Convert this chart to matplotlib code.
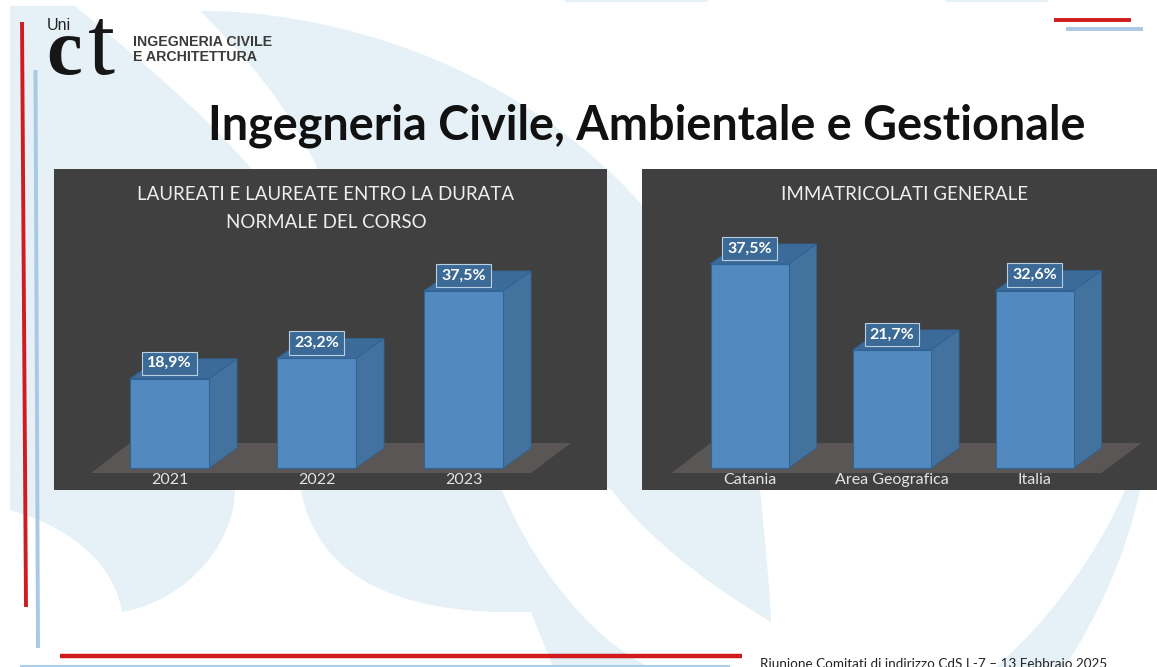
import matplotlib
matplotlib.use("Agg")
import matplotlib.pyplot as plt
from matplotlib.patches import Polygon, PathPatch
from matplotlib.path import Path

W, H = 1157, 667

years = ["2021", "2022", "2023"]
laureati = [18.9, 23.2, 37.5]
places = ["Catania", "Area Geografica", "Italia"]
immatricolati = [37.5, 21.7, 32.6]
labels_left = ["18,9%", "23,2%", "37,5%"]
labels_right = ["37,5%", "21,7%", "32,6%"]

FONT = ["Lato", "DejaVu Sans"]
PALE = "#e5f0f7"
FRONT = "#5289bf"
SIDE = "#44729e"
TOP = "#3c6a99"
EDGE = "#2f6496"
RED = "#d01c1f"
BLUE = "#a9c8e3"

M, L, C = Path.MOVETO, Path.LINETO, Path.CURVE4


def swoosh(bg, steps):
    # steps: list of (kind, points) in pixels
    verts, codes = [], []
    for kind, pts in steps:
        verts += pts
        codes += [kind] * len(pts)
    verts.append(verts[0])
    codes.append(Path.CLOSEPOLY)
    bg.add_patch(PathPatch(Path(verts, codes), fc=PALE, ec="none"))


def panel_chart(fig, box, centers, bar_w, scale, values, names, texts, title_y, title_x, title):
    # box = left, top, right, bottom of dark panel in pixels
    left, top, right, bottom = box
    base = 468
    ax = fig.add_axes([left / W, 1 - bottom / H, (right - left) / W, (bottom - top) / H])
    ax.set_facecolor("#404040")
    spacing = centers[1] - centers[0]
    ax.set_xlim((left - centers[0]) / spacing, (right - centers[0]) / spacing)
    ax.set_ylim((base - bottom) / scale, (base - top) / scale)
    ax.set_xticks([])
    ax.set_yticks([])
    for s in ax.spines.values():
        s.set_visible(False)

    w = bar_w / spacing
    dx = 28 / spacing
    dy = 20 / scale

    # floor
    x0 = -0.5 * w - 39 / spacing
    x1 = 2 + 0.5 * w + 68 / spacing
    ax.add_patch(Polygon([(x0, -5 / scale), (x0 + 39 / spacing, 25 / scale),
                          (x1, 25 / scale), (x1 - 40 / spacing, -5 / scale)],
                         fc="#595655", ec="none", zorder=1))

    ax.bar(range(3), values, width=w, color=FRONT, edgecolor=EDGE, linewidth=0.8, zorder=3)
    for i, v in enumerate(values):
        r = i + w / 2
        l = i - w / 2
        ax.add_patch(Polygon([(r, 0), (r + dx, dy), (r + dx, v + dy), (r, v)],
                             fc=SIDE, ec=EDGE, lw=0.6, zorder=2))
        ax.add_patch(Polygon([(l, v), (l + dx, v + dy), (r + dx, v + dy), (r, v)],
                             fc=TOP, ec=EDGE, lw=0.6, zorder=2))
        ax.text(i, v + 15.5 / scale, texts[i], color="white", fontsize=11.5, fontweight="bold",
                family=FONT, ha="center", va="center", zorder=5,
                bbox=dict(boxstyle="square,pad=0.3", fc="#3c6a96", ec="#b9cfe2", lw=0.8))
        ax.text(i, -12 / scale, names[i], color="#e4e4e4", fontsize=11.5, family=FONT,
                ha="center", va="center", zorder=5)

    for k, line in enumerate(title):
        ax.text((title_x - left) / (right - left), 1 - (title_y + k * 28 - top) / (bottom - top), line,
                transform=ax.transAxes, color="#eeeeee", fontsize=13.5, family=FONT,
                ha="center", va="center")
    return ax


fig = plt.figure(figsize=(W / 100, H / 100), dpi=100, facecolor="white")
bg = fig.add_axes([0, 0, 1, 1])
bg.set_xlim(0, W)
bg.set_ylim(H, 0)
bg.axis("off")

# pale background swooshes
swoosh(bg, [(M, [(10, 6)]), (L, [(75, 6)]),
            (C, [(140, 60), (200, 110), (250, 167)]),
            (L, [(235, 490)]),
            (C, [(235, 540), (190, 600), (122, 612)]),
            (C, [(115, 570), (80, 530), (10, 510)])])
swoosh(bg, [(M, [(200, 11)]),
            (C, [(320, 10), (510, 57), (642, 205)]),
            (L, [(502, 490)]),
            (C, [(530, 560), (590, 640), (650, 667)]),
            (L, [(553, 667), (531, 612)]),
            (C, [(420, 615), (320, 590), (301, 490)]),
            (L, [(317, 167)]),
            (C, [(290, 110), (250, 60), (200, 11)])])
swoosh(bg, [(M, [(612, 490)]), (L, [(607, 488), (607, 170), (642, 205), (760, 490)]),
            (C, [(765, 540), (770, 590), (771, 622)]),
            (C, [(700, 580), (640, 530), (612, 490)])])
swoosh(bg, [(M, [(1125, 490)]), (L, [(1140, 490)]),
            (C, [(1125, 560), (1095, 620), (1065, 667)]),
            (L, [(996, 667)]),
            (C, [(1050, 620), (1100, 550), (1125, 490)])])
swoosh(bg, [(M, [(565, 0)]), (L, [(708, 0), (708, 1.5), (565, 1.5)])])
swoosh(bg, [(M, [(945, 0)]), (L, [(1048, 0), (1048, 1.5), (945, 1.5)])])

# decorative lines
bg.plot([22, 26], [22, 607], color=RED, lw=2.8, solid_capstyle="butt")
bg.plot([35.5, 38], [70, 648], color=BLUE, lw=2.8, solid_capstyle="butt")
bg.plot([60, 742], [656, 656], color=RED, lw=3.2, solid_capstyle="butt")
bg.plot([20, 730], [666, 666], color="#a9d0e8", lw=1.5, solid_capstyle="butt")
bg.plot([1054, 1131], [20, 20], color=RED, lw=2.8, solid_capstyle="butt")
bg.plot([1066, 1143], [28.5, 28.5], color=BLUE, lw=2.8, solid_capstyle="butt")

# logo
bg.text(47, 30, "Uni", fontsize=11.5, family=["Liberation Sans"], color="#222222", ha="left", va="baseline")
bg.text(46, 74, "c", fontsize=58, family=["Liberation Serif"], fontweight="bold", color="#161616",
        ha="left", va="baseline")
bg.text(88, 74, "t", fontsize=70, family=["Liberation Serif"], color="#161616", ha="left", va="baseline")
bg.text(133, 42, "INGEGNERIA CIVILE", fontsize=10.2, family=["Liberation Sans"], fontweight="bold",
        color="#3a3a3a", ha="left", va="center")
bg.text(133, 57, "E ARCHITETTURA", fontsize=10.2, family=["Liberation Sans"], fontweight="bold",
        color="#3a3a3a", ha="left", va="center")

bg.text(647, 140, "Ingegneria Civile, Ambientale e Gestionale", fontsize=33.7, fontweight="bold",
        family=FONT, color="#111111", ha="center", va="baseline")
bg.text(760, 664, "Riunione Comitati di indirizzo CdS L-7 \u2013 13 Febbraio 2025", fontsize=9.7,
        family=FONT, color="#222222", ha="left", va="center")

panel_chart(fig, (54, 169, 607, 490), [169.5, 316.5, 462.5], 79, 4.72, laureati, years, labels_left, 195, 326,
            ["LAUREATI E LAUREATE ENTRO LA DURATA", "NORMALE DEL CORSO"])
panel_chart(fig, (642, 169, 1157, 490), [749.5, 892, 1034.5], 78, 5.44, immatricolati, places, labels_right, 194, 905,
            ["IMMATRICOLATI GENERALE"])

fig.savefig("out.png", dpi=100)
